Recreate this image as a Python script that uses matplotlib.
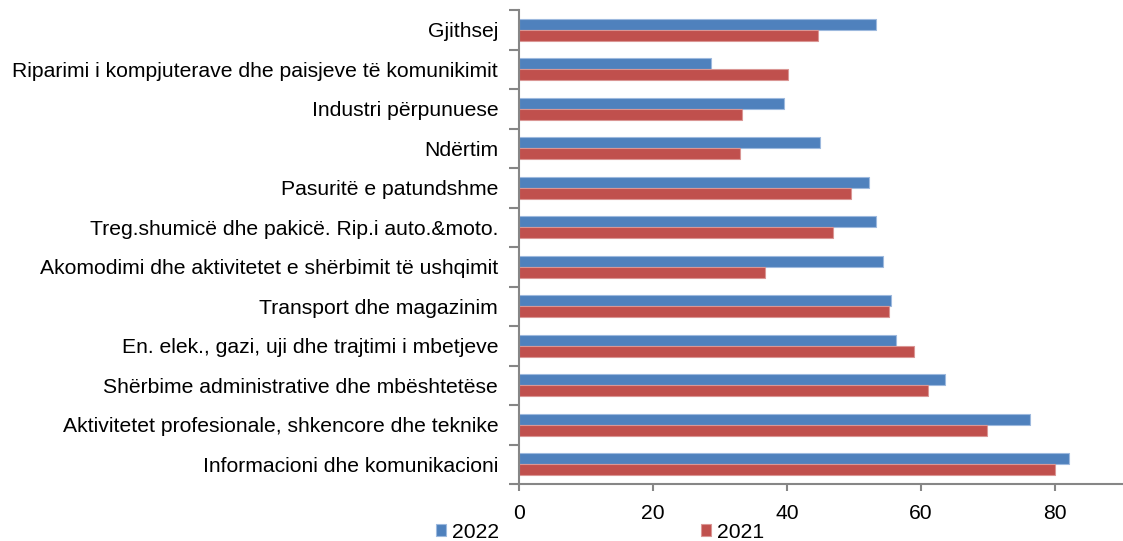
import numpy as np
import matplotlib
matplotlib.use('Agg')
import matplotlib.pyplot as plt

# categories listed top to bottom, as in the chart
categories = [
    'Gjithsej',
    'Riparimi i kompjuterave dhe paisjeve të komunikimit',
    'Industri përpunuese',
    'Ndërtim',
    'Pasuritë e patundshme',
    'Treg.shumicë dhe pakicë. Rip.i auto.&moto.',
    'Akomodimi dhe aktivitetet e shërbimit të ushqimit',
    'Transport dhe magazinim',
    'En. elek., gazi, uji dhe trajtimi i mbetjeve',
    'Shërbime administrative dhe mbështetëse',
    'Aktivitetet profesionale, shkencore dhe teknike',
    'Informacioni dhe komunikacioni',
]
values_2022 = [53.3, 28.6, 39.6, 45.0, 52.3, 53.3, 54.4, 55.6, 56.3, 63.6, 76.3, 82.1]
values_2021 = [44.6, 40.1, 33.3, 33.0, 49.5, 46.9, 36.7, 55.2, 59.0, 61.0, 69.9, 80.0]
xticks = [0, 20, 40, 60, 80]

plt.rcParams['font.family'] = ['Liberation Sans', 'DejaVu Sans']

BLUE = '#4F81BD'
RED = '#C0504D'
AXIS = '#868686'
FS = 15.2

fig = plt.figure(figsize=(11.23, 5.41), dpi=100)
ax = fig.add_axes([519/1123, 1 - 484/541, 1 - 519/1123 - 0.001, (484 - 10)/541])

pos = np.arange(len(categories))
h = 0.28
ax.barh(pos - h/2, values_2022, height=h, color=BLUE, edgecolor='#9DB9DE', linewidth=0.8, label='2022')
ax.barh(pos + h/2, values_2021, height=h, color=RED, edgecolor='#DA9694', linewidth=0.8, label='2021')

ax.set_ylim(len(categories) - 0.5, -0.5)
ax.set_xlim(0, 90)

# category labels centred, tick marks on the category boundaries (Excel style)
ax.set_yticks(pos)
ax.set_yticklabels(categories, fontsize=FS)
ax.set_yticks(np.arange(-0.5, len(categories)), minor=True)
ax.tick_params(axis='y', which='major', length=0, pad=15)
ax.tick_params(axis='y', which='minor', length=7, width=1.5, color=AXIS)

ax.set_xticks(xticks)
ax.set_xticklabels([str(t) for t in xticks], fontsize=FS)
ax.tick_params(axis='x', length=5, width=1.5, color=AXIS, pad=9.5)

for side in ['top', 'right']:
    ax.spines[side].set_visible(False)
for side in ['left', 'bottom']:
    ax.spines[side].set_color(AXIS)
    ax.spines[side].set_linewidth(1.5)

fig.legend(loc='center', bbox_to_anchor=(600/1123, 1 - 532/541), ncol=2, frameon=False,
           fontsize=FS, handlelength=0.48, handleheight=0.48, handletextpad=0.24,
           columnspacing=9.6, borderpad=0)

fig.savefig('out.png', dpi=100)
